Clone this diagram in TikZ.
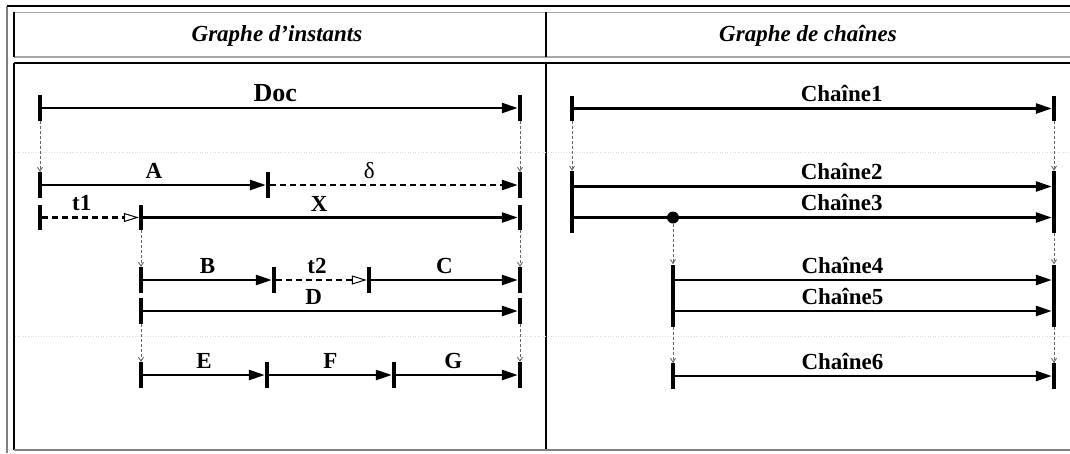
\documentclass[tikz,border=0pt]{standalone}
\usepackage{fontspec}
\setmainfont{Liberation Serif}
\usetikzlibrary{arrows.meta,positioning}

\begin{document}
\begin{tikzpicture}[x=1pt,y=-1pt,
    tickbar/.style = {fill, inner sep=0pt, minimum width=4pt, minimum height=25.5pt},
    tallbar/.style = {tickbar, minimum height=31pt},
    seg/.style = {line width=2.6pt, -{Triangle[length=16pt,width=10pt]}},
    gap/.style = {seg, dash pattern=on 6pt off 4pt},
    wait/.style = {line width=2.6pt, dash pattern=on 6pt off 4pt, -{Triangle[open,length=15pt,width=9pt,line width=1pt]}},
    drop/.style = {gray!80!black, line width=0.9pt, dash pattern=on 3pt off 2pt, -{Straight Barb[length=4pt,width=5pt]}},
    lbl/.style = {above=4pt, inner sep=1pt, font=\bfseries\fontsize{23}{26}\selectfont},
    title/.style = {font=\bfseries\itshape\fontsize{23}{26}\selectfont}]
\useasboundingbox (0,0) rectangle (1070,453);

\draw[gray, line width=1.2pt] (7,453) -- (7,6);
\draw[line width=1.2pt] (7,6) -- (1070,6);
\draw[gray!70, line width=1.2pt] (14,12.5) -- (1070,12.5);
\draw[gray!70, line width=1.2pt] (14,57) -- (1070,57);
\draw[line width=1.2pt] (14,12) -- (14,57);
\draw[line width=1.2pt] (546,12) -- (546,57);
\draw[line width=1.2pt] (14,63) -- (1070,63);
\draw[line width=1.2pt] (14,63) -- (14,450);
\draw[line width=1.2pt] (546,63) -- (546,450);
\draw[gray, line width=1.2pt] (14,450) -- (1070,450);
\draw[gray!30, dotted, line width=0.6pt] (15,152.5) -- (1069,152.5);
\draw[gray!30, dotted, line width=0.6pt] (15,336.5) -- (1069,336.5);

\node[title] (ttl1) at (277,36) {Graphe d’instants};
\node[title] (ttl2) at (808,36) {Graphe de chaînes};

\node[tickbar] (doc0) at (40,108) {};
\node[tickbar] (doc1) at (520,108) {};
\node[tickbar] (a0) at (40,185) {};
\node[tickbar] (a1) at (268,185) {};
\node[tickbar] (a2) at (520,185) {};
\node[tickbar] (x0) at (40,217.5) {};
\node[tickbar] (x1) at (141,217.5) {};
\node[tickbar] (x2) at (520,217.5) {};
\node[tickbar] (b0) at (141,280) {};
\node[tickbar] (b1) at (274,280) {};
\node[tickbar] (b2) at (369,280) {};
\node[tickbar] (b3) at (520,280) {};
\node[tickbar] (d0) at (141,311) {};
\node[tickbar] (d1) at (520,311) {};
\node[tickbar] (e0) at (141,375) {};
\node[tickbar] (e1) at (267,375) {};
\node[tickbar] (e2) at (394,375) {};
\node[tickbar] (e3) at (520,375) {};

\node[tickbar] (c1l) at (572,108.5) {};
\node[tickbar] (c1r) at (1054,108.5) {};
\node[tallbar] (c2l) at (572,186.5) {};
\node[tallbar] (c2r) at (1054,186.5) {};
\node[tallbar] (c3l) at (572,217.5) {};
\node[tallbar] (c3r) at (1054,217.5) {};
\node[fill, circle, inner sep=0pt, minimum size=12pt] (dot) at (673,217.5) {};
\node[tallbar] (c4l) at (673,280) {};
\node[tallbar] (c4r) at (1054,280) {};
\node[tallbar] (c5l) at (673,311) {};
\node[tallbar] (c5r) at (1054,311) {};
\node[tickbar] (c6l) at (673,376) {};
\node[tickbar] (c6r) at (1054,376) {};

\draw[seg] (doc0) -- node[lbl, pos=0.49, font=\bfseries\fontsize{26}{30}\selectfont] (ldoc) {Doc} (doc1);
\draw[seg] (a0) -- node[lbl] (la) {A} (a1);
\draw[gap] (a1) -- node[lbl, pos=0.4] (ldelta) {\mdseries δ} (a2);
\draw[wait] (x0) -- node[lbl, pos=0.41] (lt1) {t1} (x1);
\draw[seg] (x1) -- node[lbl, pos=0.47] (lx) {X} (x2);
\draw[seg] (b0) -- node[lbl] (lb) {B} (b1);
\draw[wait] (b1) -- node[lbl, pos=0.45] (lt2) {t2} (b2);
\draw[seg] (b2) -- node[lbl] (lc) {C} (b3);
\draw[seg] (d0) -- node[lbl, pos=0.455] (ld) {D} (d1);
\draw[seg] (e0) -- node[lbl] (le) {E} (e1);
\draw[seg] (e1) -- node[lbl] (lf) {F} (e2);
\draw[seg] (e2) -- node[lbl, pos=0.47] (lg) {G} (e3);

\draw[seg] (c1l) -- node[lbl, pos=0.56] (lc1) {Chaîne1} (c1r);
\draw[seg] (c2l) -- node[lbl, pos=0.56] (lc2) {Chaîne2} (c2r);
\draw[seg] (c3l) -- node[lbl, pos=0.56] (lc3) {Chaîne3} (c3r);
\draw[seg] (c4l) -- node[lbl, pos=0.444] (lc4) {Chaîne4} (c4r);
\draw[seg] (c5l) -- node[lbl, pos=0.444] (lc5) {Chaîne5} (c5r);
\draw[seg] (c6l) -- node[lbl, pos=0.444] (lc6) {Chaîne6} (c6r);

\draw[drop] (doc0) -- (a0);
\draw[drop] (doc1) -- (a2);
\draw[drop] (x1) -- (b0);
\draw[drop] (x2) -- (b3);
\draw[drop] (d0) -- (e0);
\draw[drop] (d1) -- (e3);
\draw[drop] (c1l) -- (c2l);
\draw[drop] (c1r) -- (c2r);
\draw[drop] (dot) -- (c4l);
\draw[drop] (c3r) -- (c4r);
\draw[drop] (c5l) -- (c6l);
\draw[drop] (c5r) -- (c6r);
\end{tikzpicture}
\end{document}
